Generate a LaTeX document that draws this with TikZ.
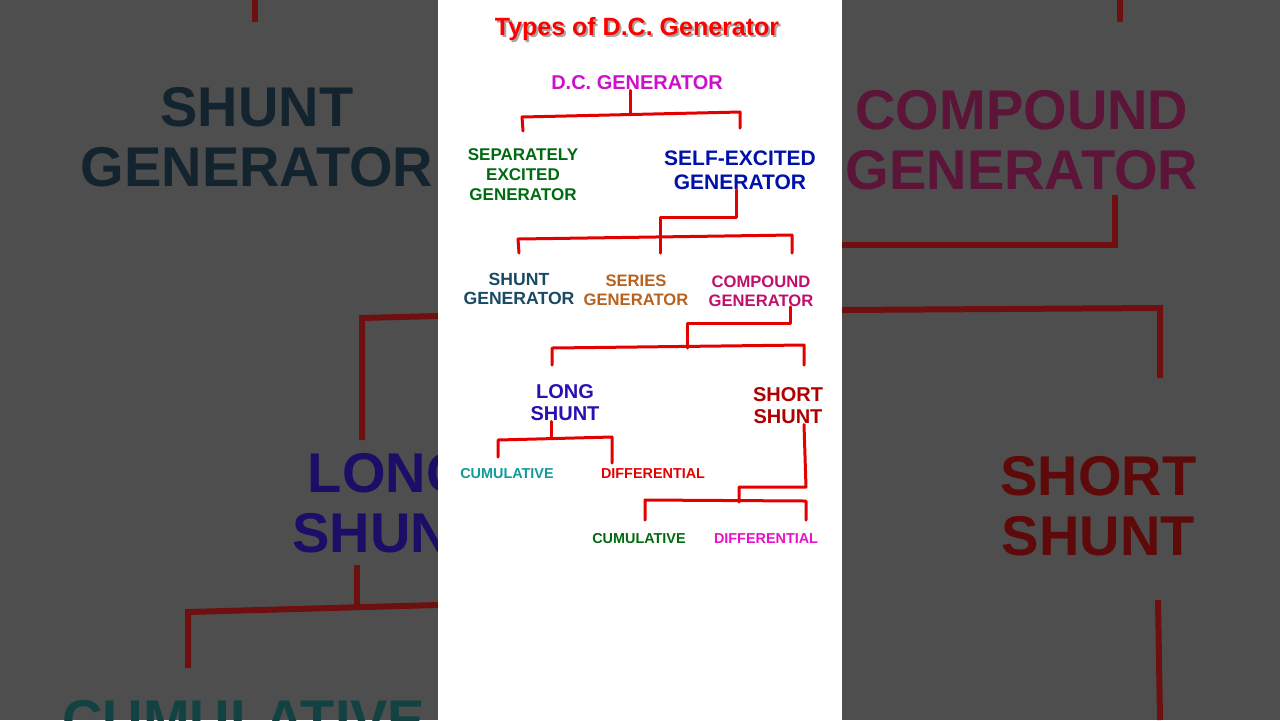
\documentclass[tikz,border=0pt]{standalone}
\usepackage{fontspec}
\setmainfont{Liberation Sans}
\definecolor{bgc}{HTML}{4E4E4E}
\definecolor{sshunt}{HTML}{14242F}
\definecolor{scomp}{HTML}{5C1438}
\definecolor{slong}{HTML}{1C0E66}
\definecolor{sshort}{HTML}{5E0A0A}
\definecolor{scum}{HTML}{124242}
\definecolor{sline}{HTML}{6E1010}
\definecolor{cshunt}{HTML}{1A4A66}
\definecolor{cseries}{HTML}{B8621E}
\definecolor{ccomp}{HTML}{C0106A}
\definecolor{clong}{HTML}{2A10B0}
\definecolor{cshort}{HTML}{B00000}
\definecolor{ccum}{HTML}{109A9A}
\definecolor{cgreen}{HTML}{006A10}
\definecolor{cblue}{HTML}{0010AA}
\definecolor{cdc}{HTML}{CC10CC}
\definecolor{cdiff2}{HTML}{E810C8}
\begin{document}
\begin{tikzpicture}[x=0.5pt,y=-0.5pt,
  lbl/.style={font=\bfseries, align=center, inner sep=0pt},
  big/.style={font=\fontsize{28}{30}\selectfont\bfseries, align=center, inner sep=0pt},
  conn/.style={draw=red!90!black, line width=1.5pt, line cap=round, line join=round},
  dimconn/.style={draw=sline, line width=3pt}]
\useasboundingbox (0,0) rectangle (1280,720);
\fill[bgc] (0,0) rectangle (1280,720);
\begin{scope}
\clip (0,0) rectangle (438,720);
\draw[dimconn] (255,0) -- (255,22);
\node[big, text=sshunt] (bs) at (257,137) {SHUNT\\GENERATOR};
\draw[dimconn] (438,316) -- (362,318) -- (362,440);
\node[big, text=slong, anchor=west] (bl) at (292,503) {LONG\\SHUNT};
\draw[dimconn] (357,565) -- (357,605);
\draw[dimconn] (438,605) -- (188,612) -- (188,668);
\node[big, text=scum, anchor=north west] (bc) at (62,700) {CUMULATIVE};
\end{scope}
\begin{scope}
\clip (842,0) rectangle (1280,720);
\draw[dimconn] (1120,0) -- (1120,22);
\node[big, text=scomp] (bcp) at (1022,140) {COMPOUND\\GENERATOR};
\draw[dimconn] (1115,195) -- (1115,245) -- (842,245);
\draw[dimconn] (842,310) -- (1160,308) -- (1160,378);
\node[big, text=sshort, anchor=west] (bsh) at (1000,506) {SHORT\\SHUNT};
\draw[dimconn] (1158,600) -- (1160,720);
\end{scope}
\fill[white] (438,0) rectangle (842,720);
\node[lbl, font=\fontsize{12.5}{13}\selectfont\bfseries, text=black!35] at (639,31) {Types of D.C. Generator};
\node[lbl, font=\fontsize{12.5}{13}\selectfont\bfseries, text=red] (title) at (637,29) {Types of D.C. Generator};
\node[lbl, font=\fontsize{10}{11}\selectfont\bfseries, text=cdc] (dc) at (637,83) {D.C. GENERATOR};
\node[lbl, font=\fontsize{8.5}{10}\selectfont\bfseries, text=cgreen] (sep) at (523,175) {SEPARATELY\\EXCITED\\GENERATOR};
\node[lbl, font=\fontsize{10.5}{12}\selectfont\bfseries, text=cblue] (self) at (740,170) {SELF-EXCITED\\GENERATOR};
\node[lbl, font=\fontsize{8.8}{9.5}\selectfont\bfseries, text=cshunt] (shunt) at (519,289) {SHUNT\\GENERATOR};
\node[lbl, font=\fontsize{8.3}{9.5}\selectfont\bfseries, text=cseries] (series) at (636,290) {SERIES\\GENERATOR};
\node[lbl, font=\fontsize{8.3}{9.5}\selectfont\bfseries, text=ccomp] (comp) at (761,291) {COMPOUND\\GENERATOR};
\node[lbl, font=\fontsize{10}{11}\selectfont\bfseries, text=clong] (long) at (565,403) {LONG\\SHUNT};
\node[lbl, font=\fontsize{10}{11}\selectfont\bfseries, text=cshort] (short) at (788,406) {SHORT\\SHUNT};
\node[lbl, font=\fontsize{7.2}{9}\selectfont\bfseries, text=ccum] (cum1) at (507,474) {CUMULATIVE};
\node[lbl, font=\fontsize{7.2}{9}\selectfont\bfseries, text=red!90!black] (diff1) at (653,474) {DIFFERENTIAL};
\node[lbl, font=\fontsize{7.2}{9}\selectfont\bfseries, text=cgreen] (cum2) at (639,539) {CUMULATIVE};
\node[lbl, font=\fontsize{7.2}{9}\selectfont\bfseries, text=cdiff2] (diff2) at (766,539) {DIFFERENTIAL};
\draw[conn] (dc.south -| 630,0) -- (630,113);
\draw[conn] (sep.north |- 0,131) -- (522,117) -- (740,112) -- (self.north |- 0,128);
\draw[conn] (self.south -| 736,0) -- (736,217) -- (660,217) -- (660,253);
\draw[conn] (shunt.north |- 0,253) -- (518,239) -- (792,235) -- (792,253);
\draw[conn] (comp.south -| 790,0) -- (790,323) -- (687,323) -- (687,348);
\draw[conn] (552,365) -- (552,348) -- (804,345) -- (804,365);
\draw[conn] (long.south -| 551,0) -- (551,438);
\draw[conn] (498,457) -- (498,440) -- (612,437) -- (612,463);
\draw[conn] (short.south -| 804,0) -- (806,487) -- (739,487) -- (739,502);
\draw[conn] (645,520) -- (645,500) -- (806,501) -- (806,520);
\end{tikzpicture}
\end{document}
